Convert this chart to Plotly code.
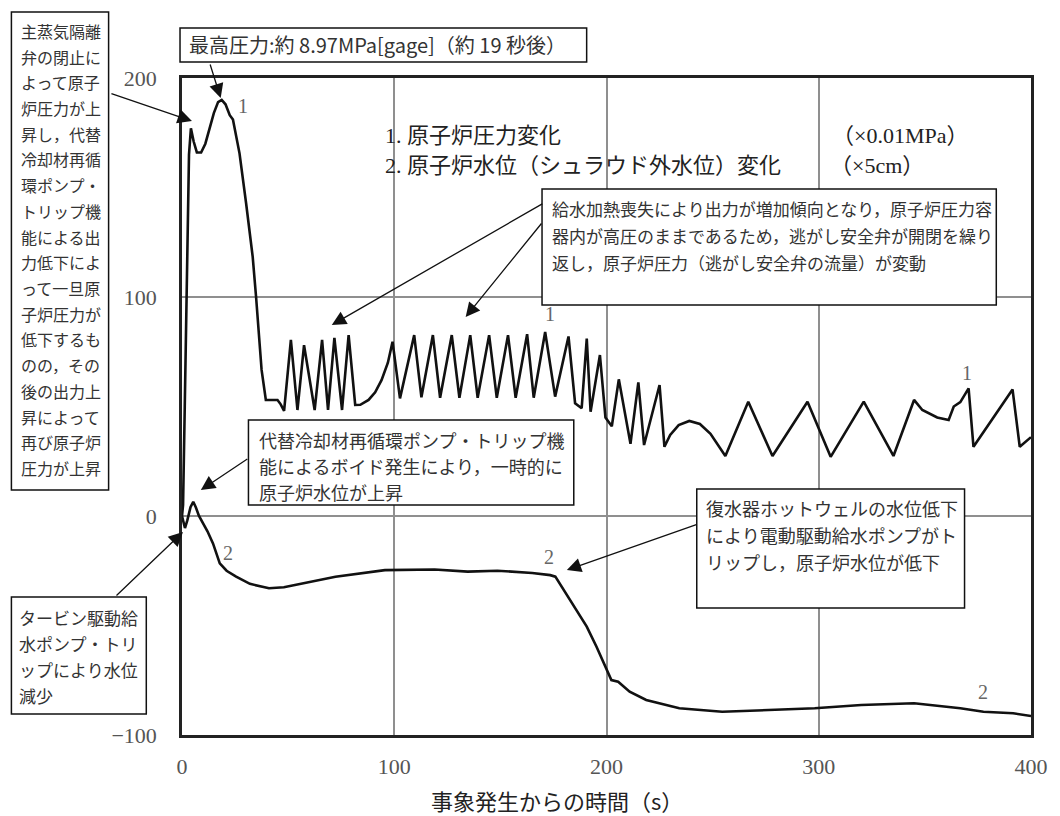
import plotly.graph_objects as go

# 1. reactor pressure change (x0.01 MPa)
t_pres = [0, 0.5, 1.3, 2.2, 3.3, 4.2, 5.5, 7, 9, 11, 13, 15, 17, 18.7, 20.5, 22.5, 24,
          27.1, 30.2, 33.3, 34.9, 37.5, 39.5, 42, 45, 46.5, 48.1,
          51.3, 54.4, 57.5, 62.5, 66, 68.8, 71.8, 75.4, 78.5, 81.6, 84, 87.9, 91, 94, 97, 99.2,
          102.7, 109.4, 112.8, 118.2, 121.6, 127.1, 130.7, 135.8, 139.3, 144.7, 148.3,
          153.6, 157.2, 162.6, 165.7, 171.1, 175.8, 182.1, 185.2, 188.3, 190.7, 192.5,
          196.9, 199.5, 202.5, 205.8, 211.3, 215, 217.7, 225, 227.3, 230, 234, 239, 244,
          249, 256, 266.8, 278.2, 294.7, 305.6, 321.2, 335.2, 344.9, 348.8, 355.8, 361.2,
          363.6, 366.7, 370.6, 372.9, 391.3, 394.7, 400]
p_pres = [0, 5, 50, 112, 165, 177, 171, 166, 166, 170, 177, 184, 189, 190, 188, 183, 181,
          165.6, 142.8, 118.4, 100, 66.7, 53, 53, 53, 51, 48,
          80.4, 48.4, 78, 48.4, 80.4, 48.4, 81.3, 48.4, 82.6, 50.7, 50.8, 53, 56.5, 62, 70, 79.6,
          53.7, 82.6, 54.2, 82.6, 54, 82.6, 54, 82.6, 54, 82.6, 54,
          82.6, 54, 83, 54, 84, 54.5, 82, 51.5, 49.2, 81, 47.6,
          73.5, 45, 41, 62.4, 33, 61, 32.4, 59.8, 31.6, 37, 41.5, 43.4, 42,
          37.5, 27.4, 52.2, 27.4, 52.2, 27, 52.2, 27.4, 53, 48.4, 45, 43.8,
          50, 52, 58.3, 31.6, 57.8, 31.6, 36]

# 2. reactor water level change (x5 cm)
t_lvl = [0, 0.7, 1.4, 2.5, 4, 5.3, 6.5, 8, 10, 12, 14.6, 17.8, 21, 25.5, 32, 41, 48,
         56.7, 72.3, 95.6, 119, 134.6, 148.6, 165, 173.5, 175.9, 180, 184.4, 190.7,
         195.3, 200, 202.3, 205.5, 210.9, 218.7, 234.3, 254.5, 281, 298.1, 320, 344.9,
         366.7, 377.6, 391.6, 400]
p_lvl = [0, -3, -5.5, -2, 4, 6.5, 4, 0, -3.4, -7, -12.5, -21.6, -25, -27.7, -31, -33, -32.5,
         -30.7, -27.7, -24.7, -24.4, -25.4, -25, -26, -27, -27.7, -34, -41.4, -50.5,
         -59.7, -70.3, -74.9, -75.7, -80.2, -84, -87.8, -89.4, -88.3, -87.8, -86.3, -85.5,
         -87.8, -89.4, -90.1, -91.3]

x_ticks = [0, 100, 200, 300, 400]
y_ticks = [-100, 0, 100, 200]
x_title = "事象発生からの時間（s）"

# page offset (body margin) and plot area in page pixels
OFF = 8
L, R, T, B = 182 - OFF, 1038 - OFF, 78 - OFF, 735 - OFF
W, H = 1060 - OFF, 816 - OFF


def xd(px):
    return (px - OFF - L) * 400 / (R - L)


def yd(py):
    return 200 - (py - OFF - T) * 300 / (B - T)


def xp(px):
    return (px - OFF - L) / (R - L)


def yp(py):
    return (B - (py - OFF)) / (B - T)


JP = "Noto Sans CJK JP"
SERIF = "Liberation Serif, Noto Sans CJK JP"
TXT = "#333333"

fig = go.Figure()
fig.add_trace(go.Scatter(x=t_pres, y=p_pres, mode="lines",
                         line=dict(color="#111111", width=2.6)))
fig.add_trace(go.Scatter(x=t_lvl, y=p_lvl, mode="lines",
                         line=dict(color="#111111", width=2.6)))

# annotation boxes: (left, top, right, bottom, text-left, first-line y, line step, font size, lines)
boxes = [
    (10, 12, 108, 490, 18, 31, 25.7, 16,
     ["主蒸気隔離", "弁の閉止に", "よって原子", "炉圧力が上", "昇し，代替", "冷却材再循",
      "環ポンプ・", "トリップ機", "能による出", "力低下によ", "って一旦原", "子炉圧力が",
      "低下するも", "のの，その", "後の出力上", "昇によって", "再び原子炉", "圧力が上昇"]),
    (180, 28, 590, 62, 187, 45, 0, 20,
     ["最高圧力:約 8.97MPa[gage]（約 19 秒後）"]),
    (545, 189, 1003, 305, 553, 208, 27, 17,
     ["給水加熱喪失により出力が増加傾向となり，原子炉圧力容",
      "器内が高圧のままであるため，逃がし安全弁が開閉を繰り",
      "返し，原子炉圧力（逃がし安全弁の流量）が変動"]),
    (249, 420, 577, 505, 258, 440, 26, 18,
     ["代替冷却材再循環ポンプ・トリップ機", "能によるボイド発生により，一時的に",
      "原子炉水位が上昇"]),
    (701, 489, 971, 608, 708, 508, 27, 18,
     ["復水器ホットウェルの水位低下", "により電動駆動給水ポンプがト",
      "リップし，原子炉水位が低下"]),
    (10, 597, 146, 714, 16, 617, 26, 17,
     ["タービン駆動給", "水ポンプ・トリ", "ップにより水位", "減少"]),
]

for x0, y0, x1, y1, tx, ty, step, fs, lines in boxes:
    fig.add_shape(type="rect", xref="paper", yref="paper",
                  x0=xp(x0), x1=xp(x1), y0=yp(y1), y1=yp(y0),
                  line=dict(color="#111111", width=1.5), fillcolor="white", layer="above")
    for i, s in enumerate(lines):
        fig.add_annotation(xref="paper", yref="paper", x=xp(tx), y=yp(ty + i * step),
                           text=s, showarrow=False, xanchor="left", yanchor="middle",
                           font=dict(family=JP, size=fs, color=TXT))

# arrows: (tail px, tail py, tip px, tip py)
arrows = [
    (110, 93, 192, 121),
    (210, 63, 221, 98),
    (545, 203, 333, 325),
    (545, 222, 468, 317),
    (249, 458, 201, 490),
    (701, 524, 570, 570),
    (115, 597, 183, 532),
]
for ax0, ay0, tx, ty in arrows:
    fig.add_annotation(x=xd(tx), y=yd(ty), xref="x", yref="y", text="",
                       showarrow=True, ax=ax0 - tx, ay=ay0 - ty,
                       arrowhead=2, arrowsize=2.2, arrowwidth=1.3, arrowcolor="#111111",
                       standoff=0)

# legend text inside the plot
legend = [
    (385, 135, "1. 原子炉圧力変化"),
    (835, 135, "（×0.01MPa）"),
    (385, 165, "2. 原子炉水位（シュラウド外水位）変化"),
    (833, 165, "（×5cm）"),
]
for lx, ly, s in legend:
    fig.add_annotation(xref="paper", yref="paper", x=xp(lx), y=yp(ly), text=s,
                       showarrow=False, xanchor="left", yanchor="middle",
                       font=dict(family=SERIF, size=22, color="#222222"))

# curve number labels
curve_labels = [
    (243, 106, "1"), (553, 314, "1"), (973, 373, "1"),
    (228, 553, "2"), (552, 557, "2"), (990, 692, "2"),
]
for cx, cy, s in curve_labels:
    fig.add_annotation(xref="paper", yref="paper", x=xp(cx), y=yp(cy), text=s,
                       showarrow=False, xanchor="center", yanchor="middle",
                       font=dict(family="Liberation Serif", size=20, color="#666666"))

# x-axis title (sits a little left of the plot centre in the original)
fig.add_annotation(xref="paper", yref="paper", x=xp(560), y=yp(800), text=x_title,
                   showarrow=False, xanchor="center", yanchor="middle",
                   font=dict(family=JP, size=22, color="#222222"))

fig.update_layout(
    width=W, height=H,
    margin=dict(l=L, r=W - R, t=T, b=H - B),
    plot_bgcolor="white", paper_bgcolor="white",
    showlegend=False,
    xaxis=dict(range=[0, 400], tickvals=x_ticks, showgrid=True,
               gridcolor="#8f8f8f", gridwidth=2, zeroline=False,
               showline=True, mirror=True, linecolor="#222222", linewidth=2.5,
               ticks="", ticklabelstandoff=10,
               tickfont=dict(family="Liberation Serif", size=22, color="#555555")),
    yaxis=dict(range=[-100, 200], tickvals=y_ticks, showgrid=True,
               gridcolor="#8f8f8f", gridwidth=2, zeroline=False,
               showline=True, mirror=True, linecolor="#222222", linewidth=2.5,
               ticks="", ticklabelstandoff=18,
               tickfont=dict(family="Liberation Serif", size=22, color="#555555")),
)

fig.write_html("out.html")
